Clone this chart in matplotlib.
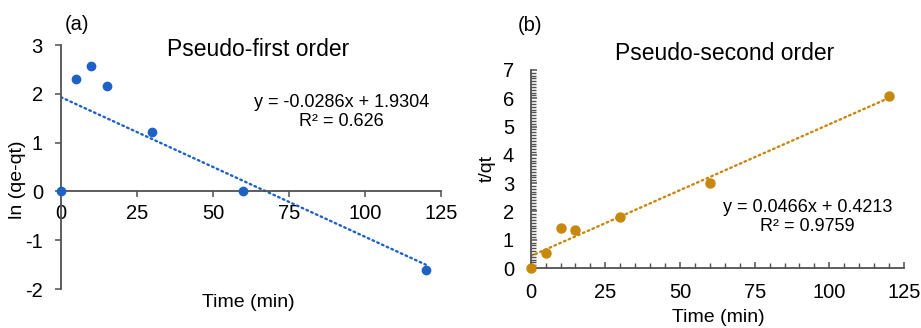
import numpy as np
import matplotlib.pyplot as plt
from matplotlib.ticker import MultipleLocator

plt.rcParams['font.family'] = ['Liberation Sans', 'DejaVu Sans']
plt.rcParams['axes.unicode_minus'] = False

# Données cinétiques
t = [0, 5, 10, 15, 30, 60, 120]
ln_qe_qt = [0, 2.30, 2.56, 2.16, 1.22, 0, -1.62]
t_qt = [0, 0.52, 1.42, 1.34, 1.80, 3.00, 6.07]

# Droites de tendance (pente, ordonnée)
fit_a = [-0.0286, 1.9304]
fit_b = [0.0466, 0.4213]
r2_a = 0.626
r2_b = 0.9759

blue = '#1F62C6'
orange = '#C8880E'
axc = '#505050'

fig = plt.figure(figsize=(9.21, 3.28), dpi=100)

# ---- (a) pseudo-premier ordre
ax1 = fig.add_axes([0.0662, 0.1189, 0.4126, 0.7439])
xf = np.array([t[0], t[-1]])
ax1.plot(xf, np.polyval(fit_a, xf), color=blue, lw=1.7,
         linestyle=(0, (0.7, 1.5)), dash_capstyle='round')
ax1.plot(t, ln_qe_qt, 'o', color=blue, ms=6, clip_on=False, zorder=5)
ax1.set_xlim(0, 125)
ax1.set_ylim(-2, 3)
ax1.set_xticks(np.arange(0, 126, 25))
ax1.set_yticks(np.arange(-2, 4, 1))
ax1.spines['left'].set_position(('data', 0))
ax1.spines['bottom'].set_position(('data', 0))
for s in ['top', 'right']:
    ax1.spines[s].set_visible(False)
for s in ['left', 'bottom']:
    ax1.spines[s].set_color(axc)
    ax1.spines[s].set_linewidth(1.3)
ax1.tick_params(direction='out', length=4, width=1.1, color=axc,
                labelsize=14.5)
ax1.tick_params(axis='x', pad=5)
ax1.tick_params(axis='y', pad=9)
ax1.set_xlabel('Time (min)', fontsize=14)
ax1.xaxis.set_label_coords(0.492, -0.022)
ax1.set_ylabel('ln (qe-qt)', fontsize=14)
ax1.yaxis.set_label_coords(-0.092, 0.447)
fig.text(0.28, 0.848, 'Pseudo-first order', fontsize=16.5,
         ha='center', va='center')
fig.text(0.0706, 0.924, '(a)', fontsize=14.5, ha='left', va='center')
ax1.text(0.739, 0.725, 'y = %.4fx + %.4f\nR² = %s' % (fit_a[0], fit_a[1], r2_a),
         transform=ax1.transAxes, fontsize=13, ha='center', va='center',
         linespacing=1.2)

# ---- (b) pseudo-second ordre
ax2 = fig.add_axes([0.5762, 0.1829, 0.4053, 0.6037])
ax2.plot(xf, np.polyval(fit_b, xf), color=orange, lw=1.7,
         linestyle=(0, (0.7, 1.5)), dash_capstyle='round')
ax2.plot(t, t_qt, 'o', color=orange, ms=6.5, clip_on=False, zorder=5)
ax2.set_xlim(0, 125)
ax2.set_ylim(0, 7)
ax2.set_xticks(np.arange(0, 126, 25))
ax2.set_yticks(np.arange(0, 8, 1))
ax2.xaxis.set_minor_locator(MultipleLocator(5))
ax2.yaxis.set_minor_locator(MultipleLocator(0.1))
for s in ['top', 'right']:
    ax2.spines[s].set_visible(False)
for s in ['left', 'bottom']:
    ax2.spines[s].set_color(axc)
    ax2.spines[s].set_linewidth(1.3)
ax2.tick_params(which='major', direction='in', length=4, width=1.1,
                color=axc, labelsize=14.5)
ax2.tick_params(axis='x', which='major', pad=11)
ax2.tick_params(axis='y', which='major', pad=12)
ax2.tick_params(which='minor', direction='in', length=3.5, width=1.0,
                color=axc)
ax2.set_xlabel('Time (min)', fontsize=14)
ax2.xaxis.set_label_coords(0.502, -0.205)
ax2.set_ylabel('t/qt', fontsize=14)
ax2.yaxis.set_label_coords(-0.093, 0.505)
fig.text(0.787, 0.838, 'Pseudo-second order', fontsize=16.5,
         ha='center', va='center')
fig.text(0.5625, 0.921, '(b)', fontsize=14.5, ha='left', va='center')
ax2.text(0.741, 0.258, 'y = %.4fx + %.4f\nR² = %s' % (fit_b[0], fit_b[1], r2_b),
         transform=ax2.transAxes, fontsize=13, ha='center', va='center',
         linespacing=1.2)

fig.savefig('out.png', dpi=100)
